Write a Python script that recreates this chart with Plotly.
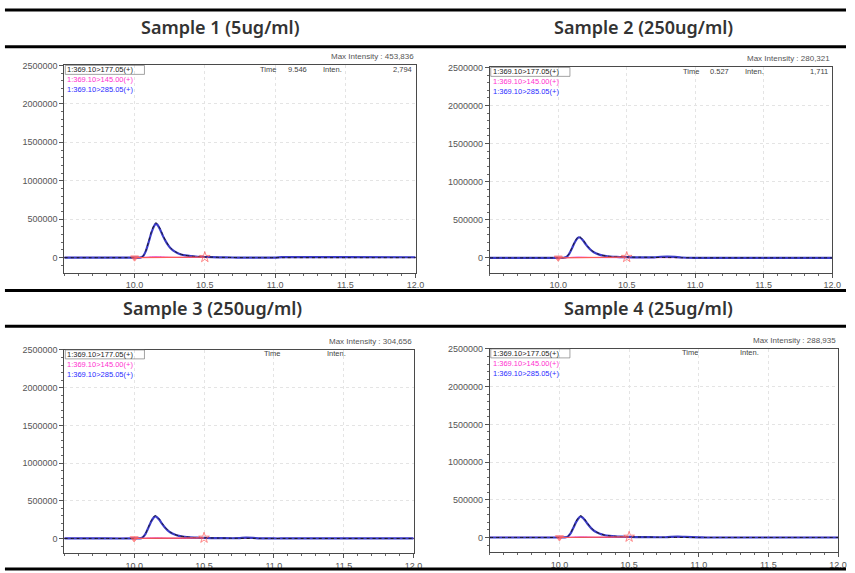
import plotly.graph_objects as go

# ---------------- data ----------------
rt = [9.50, 9.80, 10.00, 10.04, 10.06, 10.08, 10.10, 10.12, 10.14, 10.15, 10.16,
      10.18, 10.20, 10.22, 10.24, 10.26, 10.29, 10.32, 10.36, 10.40, 10.45, 10.50,
      10.60, 10.70, 10.75, 10.80, 10.85, 10.90, 11.00, 11.05, 11.50, 12.00]

s1_177 = [0, 0, 0, 1500, 20000, 90000, 210000, 340000, 430000, 453836, 445000,
          385000, 300000, 225000, 165000, 120000, 78000, 50000, 30000, 20000, 13000, 9000,
          4000, 2000, 1000, 500, 0, 0, 0, 0, 0, 0]
s1_145 = [3000, 3000, 2500, 2500, 3000, 5000, 8000, 11000, 13000, 14000, 13500,
          12000, 9500, 7500, 6000, 4500, 3500, 3000, 2500, 2000, 2000, 2000,
          1500, 1500, 1500, 1500, 1500, 1500, 1000, 1000, 1000, 1000]
s1_285 = [0, 0, 0, 1000, 18000, 85000, 200000, 325000, 415000, 440000, 432000,
          372000, 290000, 218000, 160000, 116000, 75000, 48000, 29000, 19000, 12000, 8500,
          3500, 1800, 900, 400, 0, 0, 0, 6000, 6000, 5000]

s2_177 = [0, 0, 0, 1000, 12000, 55000, 130000, 210000, 265000, 280321, 274000,
          238000, 186000, 140000, 103000, 76000, 50000, 33000, 21000, 15000, 11000, 9000,
          7000, 5000, 4000, 3000, 2000, 1000, 0, 0, 0, 0]
s2_145 = [2000, 2000, 2000, 2000, 2500, 4000, 6000, 8000, 9500, 10000, 9500,
          8500, 7000, 5500, 4500, 3500, 3000, 2500, 2000, 2000, 2000, 2000,
          1500, 1500, 1500, 1500, 1500, 1500, 1000, 1000, 1000, 1000]
s2_285 = [0, 0, 0, 800, 11000, 52000, 124000, 202000, 256000, 270000, 265000,
          230000, 180000, 135000, 99000, 73000, 48000, 32000, 20000, 14000, 10000, 8000,
          6000, 6000, 14000, 16000, 12000, 4000, 0, 0, 0, 0]

s3_177 = [0, 0, 0, 1000, 14000, 60000, 142000, 228000, 288000, 304656, 298000,
          258000, 202000, 152000, 112000, 82000, 54000, 36000, 23000, 16000, 11000, 8000,
          5000, 3000, 2000, 1500, 1000, 500, 0, 0, 0, 0]
s3_145 = [2000, 2000, 2000, 2000, 2500, 4000, 6500, 8500, 10000, 10500, 10000,
          9000, 7500, 6000, 4500, 3500, 3000, 2500, 2000, 2000, 2000, 2000,
          1500, 1500, 1500, 1500, 1500, 1500, 1000, 1000, 1000, 1000]
s3_285 = [0, 0, 0, 800, 13000, 57000, 136000, 219000, 277000, 293000, 287000,
          248000, 194000, 146000, 108000, 79000, 52000, 35000, 22000, 15000, 10000, 7000,
          4000, 3000, 5000, 11000, 8000, 2000, 0, 0, 0, 0]

s4_177 = [0, 0, 0, 1000, 13000, 57000, 134000, 216000, 273000, 288935, 282000,
          245000, 192000, 144000, 106000, 78000, 51000, 34000, 22000, 15000, 11000, 8000,
          5000, 3000, 2000, 1500, 1000, 500, 0, 0, 0, 0]
s4_145 = [2000, 2000, 2000, 2000, 2500, 4000, 6000, 8000, 9500, 10000, 9500,
          8500, 7000, 5500, 4500, 3500, 3000, 2500, 2000, 2000, 2000, 2000,
          1500, 1500, 1500, 1500, 1500, 1500, 1000, 1000, 1000, 1000]
s4_285 = [0, 0, 0, 800, 12000, 54000, 128000, 207000, 262000, 278000, 272000,
          236000, 185000, 139000, 102000, 75000, 49000, 33000, 21000, 14000, 10000, 7000,
          4000, 3000, 3000, 8000, 10000, 7000, 2000, 0, 0, 0]

# integration baseline (start / end of the integrated peak)
int_rt = [10.00, 10.50]
int_y = [[0, 6000], [0, 9000], [0, 8000], [0, 8000]]

titles = ["Sample 1 (5ug/ml)", "Sample 2 (250ug/ml)", "Sample 3 (250ug/ml)", "Sample 4 (25ug/ml)"]
max_int = ["453,836", "280,321", "304,656", "288,935"]
cursor_time = ["9.546", "0.527", "", ""]
cursor_inten = ["2,794", "1,711", "", ""]
channels = ["1:369.10>177.05(+)", "1:369.10>145.00(+)", "1:369.10>285.05(+)"]
channel_colors = ["#1c1c1c", "#ff2fd0", "#2a2aff"]

x_ticks = [10.0, 10.5, 11.0, 11.5, 12.0]
y_ticks = [0, 500000, 1000000, 1500000, 2000000, 2500000]

series = [(s1_177, s1_145, s1_285), (s2_177, s2_145, s2_285),
          (s3_177, s3_145, s3_285), (s4_177, s4_145, s4_285)]

# ---------------- layout helpers ----------------
W, H = 855, 573


def px(x):
    return x / W


def py(y):
    return 1 - y / H


# plot boxes in pixels: (left, right, top, bottom)
boxes = [(65, 420, 61, 270), (495, 841, 63, 270), (65, 418, 348, 553), (495, 847, 347, 552)]
title_pos = [(223, 22), (650, 22), (215, 306), (655, 306)]
time_x = [(271, 301, 336), (698, 727, 763), (275, 0, 340), (697, 0, 757)]

C_BLACK = "#1c1c1c"
C_MAG = "#e23fd8"
C_BLUE = "#3b3bc8"
C_RED = "#ff5a5a"
TICKFONT = dict(family="Liberation Sans", size=9, color="#555555")
SMALLFONT = "Liberation Sans"

fig = go.Figure()
layout = dict(width=W, height=H, margin=dict(l=0, r=0, t=0, b=0),
              paper_bgcolor="white", plot_bgcolor="white", showlegend=False)
annotations = []
shapes = []

for i in range(4):
    k = "" if i == 0 else str(i + 1)
    xa, ya = "x" + k, "y" + k
    l, r, t, b = boxes[i]
    layout["xaxis" + k] = dict(
        domain=[px(l), px(r)], anchor=ya, range=[9.5, 12.0],
        tickvals=x_ticks, ticktext=[f"{v:.1f}" for v in x_ticks],
        ticks="outside", ticklen=4, tickcolor="#555", tickfont=TICKFONT,
        showline=True, linecolor="#4a4a4a", linewidth=1, mirror=True,
        showgrid=True, gridcolor="#e4e4e4", griddash="dot", zeroline=False,
        minor=dict(tick0=9.5, dtick=0.1, ticks="outside", ticklen=2, tickcolor="#666", showgrid=False),
    )
    layout["yaxis" + k] = dict(
        domain=[py(b), py(t)], anchor=xa, range=[-195000, 2500000],
        tickvals=y_ticks, ticktext=[str(v) for v in y_ticks],
        ticks="outside", ticklen=4, tickcolor="#555", tickfont=TICKFONT,
        showline=True, linecolor="#4a4a4a", linewidth=1, mirror=True,
        showgrid=True, gridcolor="#e4e4e4", griddash="dot",
        zeroline=True, zerolinecolor="#3a3a3a", zerolinewidth=1,
        minor=dict(dtick=100000, ticks="outside", ticklen=2, tickcolor="#666", showgrid=False),
    )

    y177, y145, y285 = series[i]
    fig.add_trace(go.Scatter(x=rt, y=y145, xaxis=xa, yaxis=ya, mode="lines",
                             line=dict(color=C_MAG, width=1, shape="spline", smoothing=0.5)))
    fig.add_trace(go.Scatter(x=rt, y=y285, xaxis=xa, yaxis=ya, mode="lines",
                             line=dict(color=C_BLUE, width=2.2, shape="spline", smoothing=0.5)))
    fig.add_trace(go.Scatter(x=rt, y=y177, xaxis=xa, yaxis=ya, mode="lines",
                             line=dict(color=C_BLACK, width=1, dash="dot", shape="spline", smoothing=0.5)))
    fig.add_trace(go.Scatter(x=int_rt, y=int_y[i], xaxis=xa, yaxis=ya, mode="lines+markers",
                             line=dict(color=C_RED, width=1.2),
                             marker=dict(symbol=["triangle-down", "star-open"], size=[7, 8],
                                         color=C_RED, line=dict(color=C_RED, width=1))))

    # panel title
    tx, ty = title_pos[i]
    annotations.append(dict(x=px(tx), y=py(ty), xref="paper", yref="paper", showarrow=False,
                            text=titles[i], xanchor="center", yanchor="middle",
                            font=dict(family="Noto Sans", size=18, color="#333333", weight=600)))
    # max intensity header
    annotations.append(dict(x=px(r), y=py(t - 9), xref="paper", yref="paper", showarrow=False,
                            text="Max Intensity : " + max_int[i], xanchor="right", yanchor="middle",
                            font=dict(family=SMALLFONT, size=8, color="#555555")))
    # channel list (one multi-line label)
    lines = "<br>".join(f"<span style='color:{c}'>{n}</span>"
                        for n, c in zip(channels, channel_colors))
    annotations.append(dict(x=px(l + 2), y=py(t - 1), xref="paper", yref="paper",
                            showarrow=False, text=lines, xanchor="left", yanchor="top",
                            align="left", borderpad=0,
                            font=dict(family=SMALLFONT, size=7.5, color=C_BLACK)))
    # cursor readout
    x_time, x_val, x_int = time_x[i]
    annotations.append(dict(x=px(x_time), y=py(t + 4), xref="paper", yref="paper", showarrow=False,
                            text="Time", xanchor="center", yanchor="middle",
                            font=dict(family=SMALLFONT, size=7.5, color="#444")))
    annotations.append(dict(x=px(x_int), y=py(t + 4), xref="paper", yref="paper", showarrow=False,
                            text="Inten.", xanchor="center", yanchor="middle",
                            font=dict(family=SMALLFONT, size=7.5, color="#444")))
    if cursor_time[i]:
        annotations.append(dict(x=px(x_val), y=py(t + 4), xref="paper", yref="paper", showarrow=False,
                                text=cursor_time[i], xanchor="center", yanchor="middle",
                                font=dict(family=SMALLFONT, size=7.5, color="#444")))
        annotations.append(dict(x=px(r - 2), y=py(t + 4), xref="paper", yref="paper", showarrow=False,
                                text=cursor_inten[i], xanchor="right", yanchor="middle",
                                font=dict(family=SMALLFONT, size=7.5, color="#444")))
    # highlighted box around the first channel label
    shapes.append(dict(type="rect", xref="paper", yref="paper",
                       x0=px(l + 1), x1=px(l + 81), y0=py(t + 9), y1=py(t),
                       line=dict(color="#666", width=0.6)))

# heavy rules separating the title rows
for yy, wd in [(5, 3), (42, 3), (288, 3), (324, 3), (569, 3)]:
    shapes.append(dict(type="line", xref="paper", yref="paper",
                       x0=px(5), x1=1, y0=py(yy), y1=py(yy),
                       line=dict(color="black", width=wd)))

layout["annotations"] = annotations
layout["shapes"] = shapes
fig.update_layout(**layout)
fig.write_html("out.html")
